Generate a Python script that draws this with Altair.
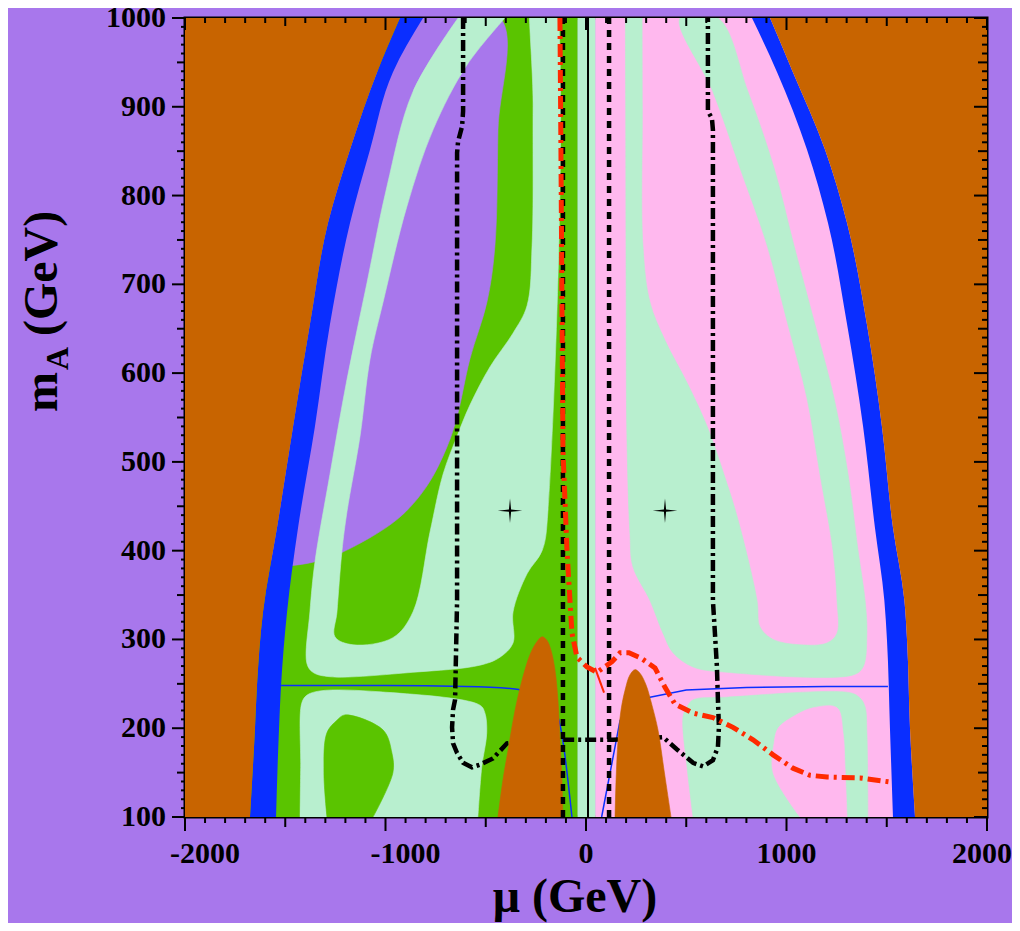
import altair as alt
import pandas as pd

W, H = 802, 799
FONT = "Liberation Serif"

PURPLE = "#A877EC"
ORANGE = "#C86400"
BLUE = "#0A2EFF"
GREEN = "#5AC400"
LGREEN = "#B8EFCF"
PINK = "#FFB8EE"
RED = "#FF2A00"
BLACK = "#000000"

# ---------------- data (mu in GeV, mA in GeV) ----------------
# left blue band
BL_MA = [100, 200, 248, 331, 426, 540, 655, 769, 852, 939, 1000]
BL_LEFT = [-1676, -1651, -1641, -1611, -1541, -1461, -1377, -1287, -1177, -1042, -928]
BL_RIGHT = [-1546, -1531, -1521, -1491, -1436, -1352, -1277, -1177, -1077, -963, -813]
# right blue band
BR_MA = [100, 200, 300, 344, 426, 540, 655, 769, 852, 939, 1000]
BR_LEFT = [1531, 1516, 1501, 1488, 1441, 1382, 1302, 1207, 1102, 953, 828]
BR_RIGHT = [1641, 1616, 1601, 1588, 1531, 1476, 1401, 1302, 1192, 1032, 918]

# base rectangles
GREEN_RECT_MU = [-1750, -42, -42, -1750]
GREEN_RECT_MA = [100, 100, 1000, 1000]
CENTER_RECT_MU = [-42, 47, 47, -42]
CENTER_RECT_MA = [100, 100, 1000, 1000]
PINK_RECT_MU = [47, 1750, 1750, 47]
PINK_RECT_MA = [100, 100, 1000, 1000]

# purple region on the left (its left side lies under the blue band)
PL_MU = [-900, -429, -439, -454, -494, -579, -643, -693, -793, -943, -1227, -1362, -1476,
         -1560, -1541, -1461, -1377, -1287, -1177, -1042]
PL_MA = [1000, 1000, 874, 744, 680, 616, 551, 517, 473, 435, 397, 387, 383,
         382, 426, 540, 655, 769, 852, 939]

# left light-green ring (points above 1000 fall outside the frame and are clipped)
RL_MU = [-638, -863, -993, -1092, -1192, -1277, -1352, -1377, -1392, -1362, -1277, -863,
         -529, -429, -364, -364, -294, -219, -190, -190,
         -259, -264, -269, -294, -364, -479, -579, -643, -713, -778, -863, -963, -1162,
         -1252, -1242, -1217, -1192, -1127, -1077, -1012, -893, -763, -594, -404]
RL_MA = [1000, 917, 810, 702, 593, 486, 387, 331, 273, 263, 258, 263,
         271, 280, 296, 331, 374, 400, 444, 1080,
         1080, 900, 744, 676, 645, 607, 564, 529, 486, 421, 331, 302, 294,
         303, 331, 400, 444, 529, 616, 680, 788, 874, 947, 1000]

# lower-left light-green loop and its green pocket
LL_MU = [-1426, -1423, -1418, -1393, -1327, -1027, -529, -504, -495, -520, -539]
LL_MA = [100, 156, 228, 237, 242, 241, 226, 217, 195, 156, 100]
GP_MU = [-1292, -1307, -1292, -1242, -1202, -1012, -968, -963, -1062]
GP_MA = [100, 150, 195, 209, 215, 198, 172, 150, 100]

# right light-green ring
RR_MU = [195, 198, 200, 204, 219, 234, 319, 384, 434, 534, 703, 1332, 1382, 1401, 1392, 1357,
         1307, 1237, 1137, 1037, 938, 808, 658,
         469, 633, 768, 903, 1002, 1102, 1167, 1232, 1252, 1252, 1202, 1067, 933, 868,
         853, 758, 688, 608, 509, 394, 319, 284, 281, 279]
RR_MA = [1080, 900, 702, 529, 420, 382, 344, 307, 285, 269, 263, 260, 269, 307, 344, 400,
         486, 572, 659, 744, 831, 917, 1000,
         1000, 917, 831, 744, 659, 572, 486, 400, 344, 307, 296, 294, 300, 314,
         344, 435, 486, 538, 587, 637, 680, 744, 900, 1080]

# lower-right light-green loop and its pink pocket
LR_MU = [534, 504, 484, 504, 534, 703, 1317, 1367, 1392, 1401, 1406]
LR_MA = [100, 156, 213, 224, 232, 235, 240, 234, 224, 195, 100]
PP_MU = [1067, 933, 938, 958, 1032, 1132, 1252, 1282, 1292, 1302]
PP_MA = [100, 150, 183, 200, 213, 223, 223, 195, 156, 100]

# orange bumps at the bottom
OPL_MU = [-439, -414, -389, -354, -319, -279, -249, -219, -195, -175, -155, -140, -130, -120, -115]
OPL_MA = [100, 142, 175, 220, 254, 283, 296, 303, 299, 288, 266, 232, 187, 142, 100]
OPR_MU = [145, 150, 160, 175, 195, 219, 244, 269, 299, 329, 359, 389, 424]
OPR_MA = [100, 142, 187, 221, 243, 260, 266, 262, 249, 226, 198, 153, 100]

# thin blue lines
BLN_L_MU = [-1521, -1000, -600, -344, -250, -145, -70]
BLN_L_MA = [248, 248, 247, 244, 236, 215, 100]
BLN_R_MU = [78, 170, 250, 319, 500, 800, 1200, 1506]
BLN_R_MA = [100, 209, 230, 235, 243, 246, 247, 247]

# black dash-dot contour
BC_MU = [-613, -613, -618, -638, -643, -643, -653, -663, -668, -663, -643, -613, -569, -529,
         -464, -394, -254, -120, 135, 269, 384, 454, 534, 584, 633, 658, 663, 658, 653, 643,
         633, 633, 628, 608, 608]
BC_MA = [1000, 895, 878, 861, 848, 344, 232, 221, 201, 183, 172, 161, 156, 159,
         166, 183, 187, 187, 187, 188, 190, 176, 161, 157, 164, 179, 201, 232, 269, 307,
         344, 874, 887, 895, 1000]

# red dash-dot curve
RED_MU = [-130, -125, -120, -115, -95, -80, -70, -45, 5, 55, 105, 130, 170, 214, 274, 344,
          394, 444, 534, 633, 733, 833, 933, 1032, 1117, 1202, 1367, 1531]
RED_MA = [1000, 851, 682, 513, 401, 344, 307, 280, 269, 263, 271, 275, 285, 285, 279, 268,
          246, 227, 217, 212, 201, 187, 170, 155, 147, 145, 144, 139]
RED2_MU = [45, 90]
RED2_MA = [268, 240]

# vertical lines
DASH_L_MU = [-115, -115]
DASH_R_MU = [115, 115]
SOLID_MU = [10, 10]
VLINE_MA = [100, 1000]

# stars
STAR_MU = [-379, 394]
STAR_MA = [445, 445]

# axis ticks and labels
X_ALL = list(range(-2000, 2001, 100))
X_MAJOR = [v for v in X_ALL if v % 1000 == 0]
X_MED = [v for v in X_ALL if v % 500 == 0 and v % 1000 != 0]
X_MINOR = [v for v in X_ALL if v % 500 != 0]
Y_ALL = list(range(100, 1001, 10))
Y_MAJOR = [v for v in Y_ALL if v % 100 == 0]
Y_MED = [v for v in Y_ALL if v % 50 == 0 and v % 100 != 0]
Y_MINOR = [v for v in Y_ALL if v % 50 != 0]
X_LABELS_NEG = [-2000, -1000]
X_LABELS_NEG_TEXT = ["-2000", "-1000"]
X_LABELS_MID = [0, 1000]
X_LABELS_MID_TEXT = ["0", "1000"]
X_LABELS_END = [2000]
X_LABELS_END_TEXT = ["2000"]
Y_LABELS = [100, 200, 300, 400, 500, 600, 700, 800, 900, 1000]
Y_LABELS_TEXT = ["100", "200", "300", "400", "500", "600", "700", "800", "900", "1000"]

# ---------------- chart ----------------
xs = alt.Scale(domain=[-2000, 2000], nice=False, zero=False)
ys = alt.Scale(domain=[100, 1000], nice=False, zero=False)


def poly(mu, ma, color, interp="linear"):
    df = pd.DataFrame({"mu": mu, "mA": ma, "i": list(range(len(mu)))})
    return alt.Chart(df).mark_line(color=color, fill=color, strokeWidth=0.6, clip=True,
                                   interpolate=interp).encode(
        x=alt.X("mu:Q", scale=xs, axis=None),
        y=alt.Y("mA:Q", scale=ys, axis=None),
        order="i:Q")


def band(left, right, ma, color):
    df = pd.DataFrame({"l": left, "r": right, "mA": ma})
    return alt.Chart(df).mark_area(color=color, orient="horizontal", interpolate="monotone",
                                   clip=True).encode(
        x=alt.X("l:Q", scale=xs, axis=None), x2="r:Q",
        y=alt.Y("mA:Q", scale=ys, axis=None))


def curve(mu, ma, color, width, dash=None, interp="linear"):
    df = pd.DataFrame({"mu": mu, "mA": ma, "i": list(range(len(mu)))})
    kw = dict(color=color, strokeWidth=width, clip=True, interpolate=interp)
    if dash:
        kw["strokeDash"] = dash
    return alt.Chart(df).mark_line(**kw).encode(
        x=alt.X("mu:Q", scale=xs, axis=None),
        y=alt.Y("mA:Q", scale=ys, axis=None),
        order="i:Q")


def xticks(vals, y0, y1):
    df = pd.DataFrame({"v": vals})
    return alt.Chart(df).mark_rule(color=BLACK, strokeWidth=2).encode(
        x=alt.X("v:Q", scale=xs, axis=None), y=alt.value(y0), y2=alt.value(y1))


def yticks(vals, x0, x1):
    df = pd.DataFrame({"v": vals})
    return alt.Chart(df).mark_rule(color=BLACK, strokeWidth=2).encode(
        y=alt.Y("v:Q", scale=ys, axis=None), x=alt.value(x0), x2=alt.value(x1))


def xlabels(vals, texts, dx):
    df = pd.DataFrame({"v": vals, "t": texts})
    return alt.Chart(df).mark_text(
        font=FONT, fontWeight="bold", fontSize=30, baseline="alphabetic", align="center",
        dx=dx, color=BLACK).encode(
        x=alt.X("v:Q", scale=xs, axis=None), y=alt.value(845), text="t:N")


def label_text(txt, x, y, size, angle=0, align="left"):
    df = pd.DataFrame({"t": [txt]})
    return alt.Chart(df).mark_text(font=FONT, fontWeight="bold", fontSize=size, angle=angle,
                                   align=align, baseline="alphabetic", color=BLACK).encode(
        x=alt.value(x), y=alt.value(y), text="t:N")


CR = "catmull-rom"
layers = [
    poly(GREEN_RECT_MU, GREEN_RECT_MA, GREEN),
    poly(PL_MU, PL_MA, PURPLE, CR),
    poly(RL_MU, RL_MA, LGREEN, CR),
    poly(LL_MU, LL_MA, LGREEN, CR),
    poly(GP_MU, GP_MA, GREEN, CR),
    poly(CENTER_RECT_MU, CENTER_RECT_MA, LGREEN),
    poly(PINK_RECT_MU, PINK_RECT_MA, PINK),
    poly(RR_MU, RR_MA, LGREEN, CR),
    poly(LR_MU, LR_MA, LGREEN, CR),
    poly(PP_MU, PP_MA, PINK, CR),
    band(BL_LEFT, BL_RIGHT, BL_MA, BLUE),
    band(BR_LEFT, BR_RIGHT, BR_MA, BLUE),
    band([-2000] * len(BL_MA), BL_LEFT, BL_MA, ORANGE),
    band(BR_RIGHT, [2000] * len(BR_MA), BR_MA, ORANGE),
    curve(BLN_L_MU, BLN_L_MA, BLUE, 1.5, interp="monotone"),
    curve(BLN_R_MU, BLN_R_MA, BLUE, 1.5),
    curve(BC_MU, BC_MA, BLACK, 4.5, dash=[11, 4, 3, 4]),
    poly(OPL_MU, OPL_MA, ORANGE, CR),
    poly(OPR_MU, OPR_MA, ORANGE, CR),
    curve(DASH_L_MU, VLINE_MA, BLACK, 4.5, dash=[7, 6]),
    curve(DASH_R_MU, VLINE_MA, BLACK, 4.5, dash=[7, 6]),
    curve(SOLID_MU, VLINE_MA, BLACK, 2),
    curve(RED_MU, RED_MA, RED, 5, dash=[13, 5, 3, 5]),
    curve(RED2_MU, RED2_MA, RED, 2),
    alt.Chart(pd.DataFrame({"mu": STAR_MU, "mA": STAR_MA})).mark_point(
        shape="M0,-1L0.09,-0.09L1,0L0.09,0.09L0,1L-0.09,0.09L-1,0L-0.09,-0.09Z",
        filled=True, color=BLACK, size=600, opacity=1).encode(
        x=alt.X("mu:Q", scale=xs, axis=None), y=alt.Y("mA:Q", scale=ys, axis=None)),
    # ticks
    xticks(X_MINOR, H, H + 6), xticks(X_MED, H, H + 10), xticks(X_MAJOR, H, H + 14),
    xticks(X_MINOR, 0, 5), xticks(X_MED, 0, 8), xticks(X_MAJOR, 0, 12),
    yticks(Y_MINOR, -4, 0), yticks(Y_MED, -8, 0), yticks(Y_MAJOR, -13, 0),
    yticks(Y_MINOR, W - 5, W), yticks(Y_MED, W - 9, W), yticks(Y_MAJOR, W - 13, W),
    # tick labels
    xlabels(X_LABELS_NEG, X_LABELS_NEG_TEXT, 20),
    xlabels(X_LABELS_MID, X_LABELS_MID_TEXT, 0),
    xlabels(X_LABELS_END, X_LABELS_END_TEXT, -5),
    alt.Chart(pd.DataFrame({"v": Y_LABELS, "t": Y_LABELS_TEXT})).mark_text(
        font=FONT, fontWeight="bold", fontSize=30, baseline="middle", align="right",
        color=BLACK).encode(
        y=alt.Y("v:Q", scale=ys, axis=None), x=alt.value(-19), text="t:N"),
    # axis titles
    label_text("μ (GeV)", 390, 894, 48, align="center"),
    label_text("m", -128, 394, 48, angle=270),
    label_text("A", -117, 352, 32, angle=270),
    label_text("(GeV)", -128, 318, 48, angle=270),
]

chart = alt.layer(*layers).properties(
    width=W, height=H, background=PURPLE,
    padding={"left": 177, "top": 10, "right": 25, "bottom": 106},
    autosize=alt.AutoSizeParams(type="none"),
).configure_view(stroke=BLACK, strokeWidth=3, fill=PURPLE)

chart.save("out.html", embed_options={"renderer": "svg", "actions": False})
